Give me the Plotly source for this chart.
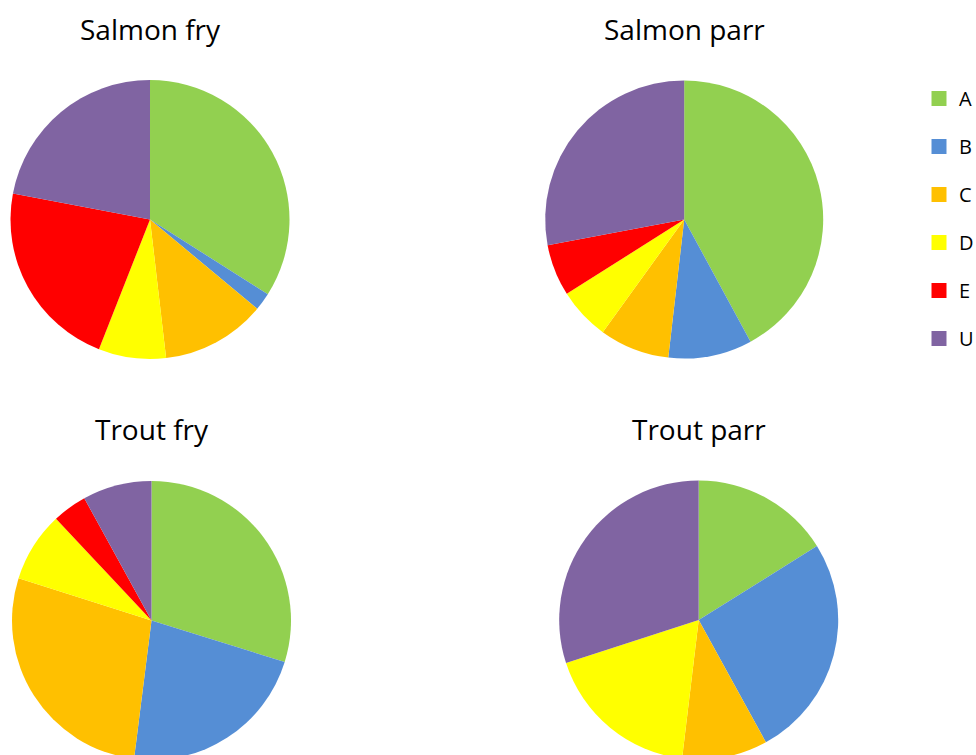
import plotly.graph_objects as go

categories = ["A", "B", "C", "D", "E", "U"]
colors = ["#92D050", "#558ED5", "#FFC000", "#FFFF00", "#FF0000", "#8064A2"]

salmon_fry = [33.97, 2.05, 12.1, 7.8, 22.0, 22.0]
salmon_parr = [42.1, 9.75, 8.14, 6.06, 6.03, 27.97]
trout_fry = [29.8, 22.2, 27.9, 8.1, 4.0, 8.0]
trout_parr = [16.1, 25.9, 9.9, 18.1, 0.0, 30.0]

titles = ["Salmon fry", "Salmon parr", "Trout fry", "Trout parr"]
series = [salmon_fry, salmon_parr, trout_fry, trout_parr]

W, H = 976, 770
# pie centres/radius in pixels (layout)
geom = [(150, 219.5, 139.5), (684.2, 219.5, 139), (151.5, 620.5, 139.5), (698.7, 620, 139.5)]
title_y = [29, 29, 429, 429]

fig = go.Figure()
for name, vals, (cx, cy, r) in zip(titles, series, geom):
    fig.add_trace(go.Pie(
        labels=categories, values=vals, name=name,
        marker=dict(colors=colors, line=dict(width=0)),
        sort=False, direction="clockwise", rotation=0,
        textinfo="none", hoverinfo="label+percent",
        showlegend=False,
        domain=dict(x=[(cx - r) / W, (cx + r) / W],
                    y=[max(0, (H - cy - r) / H), (H - cy + r) / H]),
    ))

for cat, col in zip(categories, colors):
    fig.add_trace(go.Scatter(
        x=[None], y=[None], mode="markers", name=cat, legendgroup=cat,
        marker=dict(symbol="square", size=15, color=col),
        showlegend=True, hoverinfo="skip",
    ))

annotations = []
for t, (cx, cy, r), ty in zip(titles, geom, title_y):
    annotations.append(dict(
        text=t, x=cx / W, y=(H - ty) / H, xref="paper", yref="paper",
        xanchor="center", yanchor="middle", showarrow=False,
        font=dict(size=28, color="#000000", family="Open Sans"),
    ))

fig.update_layout(
    width=W, height=H,
    margin=dict(l=0, r=0, t=0, b=0, autoexpand=False),
    paper_bgcolor="white", plot_bgcolor="white",
    xaxis=dict(visible=False), yaxis=dict(visible=False),
    annotations=annotations,
    legend=dict(
        x=919 / W, y=(H - 79) / H, xanchor="left", yanchor="top",
        font=dict(size=20, color="#000000", family="Open Sans"),
        traceorder="grouped", tracegroupgap=19,
        bgcolor="rgba(0,0,0,0)",
    ),
    font=dict(family="Open Sans"),
)

fig.write_html("out.html",
               post_script="document.body.style.margin='0';document.body.style.overflow='hidden';document.documentElement.style.overflow='hidden';")
